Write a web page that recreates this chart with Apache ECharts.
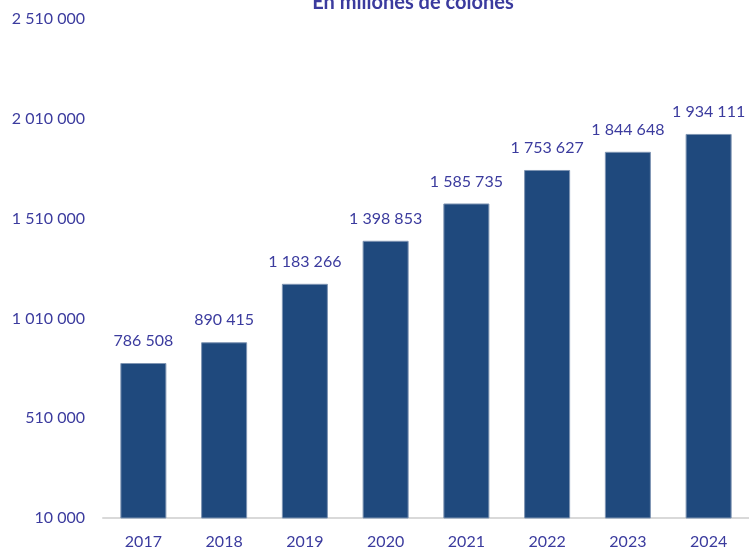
<!DOCTYPE html>
<html><head><meta charset="utf-8">
<script src="https://cdn.jsdelivr.net/npm/echarts@6/dist/echarts.min.js"></script>
<style>html,body{margin:0;padding:0;background:#fff}#c{width:749px;height:550px}</style>
</head><body><div id="c"></div>
<script>
const categories = ['2017','2018','2019','2020','2021','2022','2023','2024'];
const values = [786508, 890415, 1183266, 1398853, 1585735, 1753627, 1844648, 1934111];
const titleText = 'En millones de colones';
const yMin = 10000, yMax = 2510000, yStep = 500000;

function fmt(v){ return String(Math.round(v)).replace(/\B(?=(\d{3})+(?!\d))/g, ' '); }

const textColor = '#3B3B9E';
const font = 'Lato';
const chart = echarts.init(document.getElementById('c'), null, {renderer:'canvas'});
chart.setOption({
  animation:false,
  textStyle:{fontFamily:font},
  title:{text:titleText, left:408, top:-12, textAlign:'center',
    textStyle:{color:textColor, fontSize:20, fontWeight:'bold', fontFamily:font}},
  grid:{left:103, right:0, top:19, bottom:31, containLabel:false},
  xAxis:{type:'category', data:categories,
    axisLine:{lineStyle:{color:'#D9D9D9', width:2}},
    axisTick:{show:false},
    axisLabel:{color:textColor, fontSize:16, fontFamily:font, margin:16}},
  yAxis:{type:'value', min:yMin, max:yMax, interval:yStep,
    splitLine:{show:false}, axisLine:{show:false}, axisTick:{show:false},
    axisLabel:{color:textColor, fontSize:16, fontFamily:font, margin:18, formatter:fmt}},
  series:[{type:'bar', data:values, barWidth:'57%',
    itemStyle:{color:'#1F497D', borderColor:'#7F95B3', borderWidth:1},
    label:{show:true, position:'top', distance:14, color:textColor, fontSize:16, fontFamily:font, formatter:p=>fmt(p.value)}}]
});
</script></body></html>
